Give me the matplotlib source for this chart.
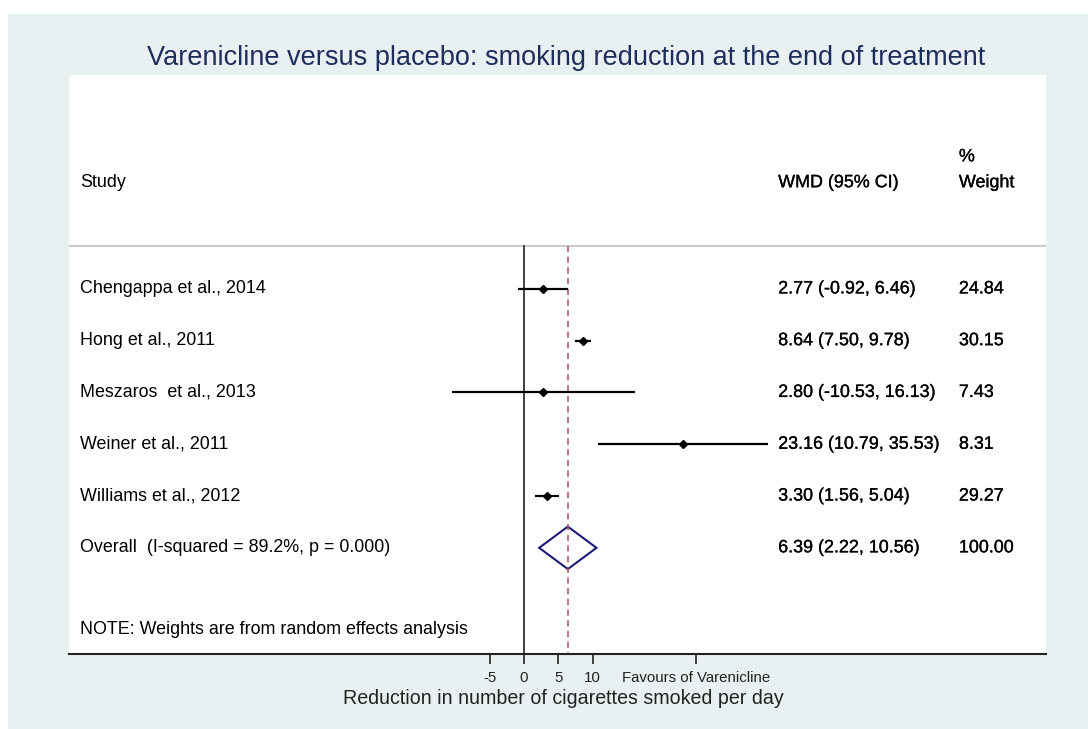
import numpy as np
import matplotlib
matplotlib.use("Agg")
import matplotlib.pyplot as plt
import matplotlib.patheffects as pe
from matplotlib.patches import Polygon, Rectangle

plt.rcParams['font.family'] = ['Liberation Sans', 'DejaVu Sans']

studies = ["Chengappa et al., 2014", "Hong et al., 2011", "Meszaros  et al., 2013",
           "Weiner et al., 2011", "Williams et al., 2012"]
wmd = [2.77, 8.64, 2.80, 23.16, 3.30]
lower = [-0.92, 7.50, -10.53, 10.79, 1.56]
upper = [6.46, 9.78, 16.13, 35.53, 5.04]
weights = ["24.84", "30.15", "7.43", "8.31", "29.27"]

overall_label = "Overall  (I-squared = 89.2%, p = 0.000)"
overall = 6.39
overall_lo = 2.22
overall_hi = 10.56
overall_weight = "100.00"

xticks = [-5, 0, 5, 10, 25]
xticklabels = ["-5", "0", "5", "10", "Favours of Varenicline"]

bg = "#e8f0f2"
navy = "#1f2d5c"

fig = plt.figure(figsize=(10.88, 7.29), dpi=100, facecolor="white")
# light background panel
fig.patches.append(Rectangle((8 / 1088, 0), 1, 1 - 14 / 729, transform=fig.transFigure,
                             facecolor=bg, edgecolor="none", zorder=-5))

ax = fig.add_axes([69 / 1088, 1 - 654 / 729, (1045.5 - 69) / 1088, (654 - 75) / 729])
ax.set_zorder(2)
ax.set_facecolor("white")
ax.set_xlim(-66.2, 75.9)
ax.set_ylim(7.05, -4.13)

for s in ["top", "right", "left"]:
    ax.spines[s].set_visible(False)
ax.spines["bottom"].set_linewidth(1.5)
ax.spines["bottom"].set_color("#222222")
ax.set_yticks([])
ax.set_xticks(xticks)
ax.set_xticklabels(xticklabels, fontsize=10.8, color="#222222")
ax.tick_params(axis="x", length=7, width=1.2, color="#222222", pad=5)

# header separator
ax.axhline(-0.82, color="#cccccc", lw=1.5)
# null line and overall line
ax.plot([0, 0], [-0.82, 7.05], color="#333333", lw=1.3)
ax.plot([overall, overall], [-0.82, 7.05], color="#a5505e", lw=1.1, ls=(0, (4, 3)))

x_study, x_ci, x_w = -64.6, 37.0, 63.3
text_kw = dict(fontsize=12.9, va="center", color="black")
# right-hand columns are drawn slightly heavier in the original
bold_kw = dict(text_kw, path_effects=[pe.withStroke(linewidth=0.2, foreground="black")])

ax.text(x_study, -2.05, "Study", **text_kw)
ax.text(x_ci, -2.05, "WMD (95% CI)", **bold_kw)
ax.text(x_w, -2.05, "Weight", **bold_kw)
ax.text(x_w, -2.55, "%", **bold_kw)

for i, (name, m, lo, hi, w) in enumerate(zip(studies, wmd, lower, upper, weights)):
    ax.plot([lo, hi], [i, i], color="black", lw=1.6, solid_capstyle="butt")
    ax.plot(m, i, marker="D", color="black", markersize=4.5)
    ax.text(x_study, i, name, **text_kw)
    ax.text(x_ci, i, f"{m:.2f} ({lo:.2f}, {hi:.2f})", **bold_kw)
    ax.text(x_w, i, w, **bold_kw)

yo = len(studies)
diamond = Polygon([[overall_lo, yo], [overall, yo - 0.41], [overall_hi, yo], [overall, yo + 0.41]],
                  closed=True, facecolor="none", edgecolor="#1a1a7a", lw=1.5)
ax.add_patch(diamond)
ax.text(x_study, yo, overall_label, **text_kw)
ax.text(x_ci, yo, f"{overall:.2f} ({overall_lo:.2f}, {overall_hi:.2f})", **bold_kw)
ax.text(x_w, yo, overall_weight, **bold_kw)

ax.text(x_study, 6.58, "NOTE: Weights are from random effects analysis", **text_kw)

fig.text(563 / 1088, 1 - 698 / 729, "Reduction in number of cigarettes smoked per day",
         ha="center", va="center", fontsize=14.1, color="#222222")
fig.text(566 / 1088, 1 - 58 / 729,
         "Varenicline versus placebo: smoking reduction at the end of treatment",
         ha="center", va="center", fontsize=19.5, color=navy)

fig.savefig("out.png", dpi=100, facecolor=fig.get_facecolor())
